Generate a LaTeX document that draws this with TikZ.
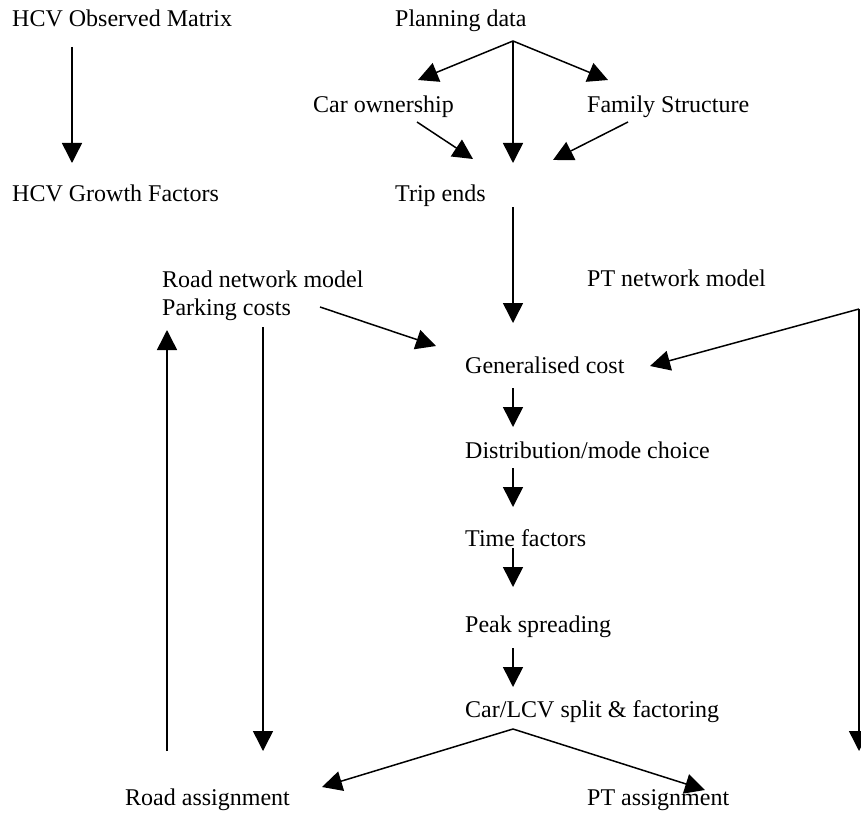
\documentclass[tikz,border=0pt]{standalone}
\usepackage{fontspec}
\setmainfont{Liberation Serif}
\usetikzlibrary{arrows.meta}
\begin{document}
\begin{tikzpicture}[x=1pt,y=-1pt,
  lbl/.style={anchor=base west,inner sep=0pt,font=\fontsize{24}{28}\selectfont},
  arr/.style={line width=1.5pt,-{Triangle[length=20pt,width=20pt]}},
  ln/.style={line width=1.5pt}]
\useasboundingbox (0,0) rectangle (861,813);
% labels
\node[lbl] (hom) at (12,27) {HCV Observed Matrix};
\node[lbl] (hgf) at (12,201) {HCV Growth Factors};
\node[lbl] (pd) at (395,27) {Planning data};
\node[lbl] (co) at (313,113) {Car ownership};
\node[lbl] (fs) at (587,113) {Family Structure};
\node[lbl] (te) at (395,201) {Trip ends};
\node[lbl] (rnm) at (162,287) {Road network model};
\node[lbl] (pc) at (162,315) {Parking costs};
\node[lbl] (ptnm) at (587,286) {PT network model};
\node[lbl] (gc) at (465,373) {Generalised cost};
\node[lbl] (dm) at (465,458) {Distribution/mode choice};
\node[lbl] (tf) at (465,546) {Time factors};
\node[lbl] (ps) at (465,632) {Peak spreading};
\node[lbl] (cl) at (465,717) {Car/LCV split \& factoring};
\node[lbl] (ra) at (125,805) {Road assignment};
\node[lbl] (pta) at (587,805) {PT assignment};
% connector points
\coordinate (homS) at (72,47);
\coordinate (hgfN) at (72,163);
\coordinate (pdS) at (513,41);
\coordinate (coN) at (418,80);
\coordinate (fsN) at (608,80);
\coordinate (teN) at (513,163);
\coordinate (coS) at (417,122);
\coordinate (teNW) at (473,159);
\coordinate (fsS) at (628,122);
\coordinate (teNE) at (553,160);
\coordinate (teS) at (513,207);
\coordinate (gcN) at (513,323);
\coordinate (pcE) at (320,307);
\coordinate (gcNW) at (436,346);
\coordinate (ptC) at (859,309);
\coordinate (gcE) at (650,366);
\coordinate (ptB) at (859,751);
\coordinate (gcS) at (513,388);
\coordinate (dmN) at (513,427);
\coordinate (dmS) at (513,468);
\coordinate (tfN) at (513,507);
\coordinate (tfS) at (513,548);
\coordinate (psN) at (513,587);
\coordinate (psS) at (513,648);
\coordinate (clN) at (513,687);
\coordinate (clS) at (513,729);
\coordinate (raNE) at (322,787);
\coordinate (ptaNW) at (705,790);
\coordinate (upB) at (167,751);
\coordinate (upT) at (167,330);
\coordinate (dnT) at (263,327);
\coordinate (dnB) at (263,751);
% connectors
\draw[arr] (homS) -- (hgfN);
\draw[arr] (pdS) -- (coN);
\draw[arr] (pdS) -- (fsN);
\draw[arr] (pdS) -- (teN);
\draw[arr] (coS) -- (teNW);
\draw[arr] (fsS) -- (teNE);
\draw[arr] (teS) -- (gcN);
\draw[arr] (pcE) -- (gcNW);
\draw[arr] (ptC) -- (gcE);
\draw[arr] (ptC) -- (ptB);
\draw[arr] (gcS) -- (dmN);
\draw[arr] (dmS) -- (tfN);
\draw[arr] (tfS) -- (psN);
\draw[arr] (psS) -- (clN);
\draw[arr] (clS) -- (raNE);
\draw[arr] (clS) -- (ptaNW);
\draw[arr] (upB) -- (upT);
\draw[arr] (dnT) -- (dnB);
\end{tikzpicture}
\end{document}
